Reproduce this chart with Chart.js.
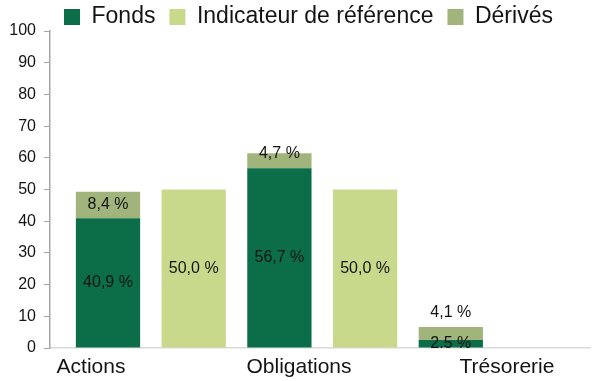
<!DOCTYPE html>
<html lang="fr">
<head>
<meta charset="utf-8">
<title>Répartition du portefeuille</title>
<style>
  html, body { margin: 0; padding: 0; background: #ffffff; }
  #wrap { width: 593px; height: 381px; }
  canvas { display: block; }
</style>
<script src="https://cdn.jsdelivr.net/npm/chart.js@4/dist/chart.umd.min.js"></script>
</head>
<body>
<div id="wrap"><canvas id="chart" width="593" height="381"></canvas></div>
<script>
// Allocation par classe d'actifs (en % de l'actif net)
const categories = ['Actions', 'Obligations', 'Trésorerie'];
const fonds = [40.9, 56.7, 2.5];
const indicateur = [50.0, 50.0, null];
const derives = [8.4, 4.7, 4.1];
const yTicks = [0, 10, 20, 30, 40, 50, 60, 70, 80, 90, 100];

const FONT = '"Liberation Sans", Arial, Helvetica, sans-serif';
const TEXT = '#141414';

const toPoints = (values) => values.map((v, i) => ({ x: i, y: v }));
const formatPct = (v) => v.toFixed(1).replace('.', ',') + ' %';
const categoryTicks = () => categories.map((_, i) => ({ value: i }));

// Writes each segment's value on the bar; small segments can be nudged
// to their top edge or placed just above the stack.
const segmentLabels = {
  id: 'segmentLabels',
  afterDatasetsDraw(chart, args, opts) {
    const { ctx, chartArea } = chart;
    ctx.save();
    ctx.beginPath();
    ctx.rect(chartArea.left, chartArea.top, chartArea.right - chartArea.left, chartArea.bottom - chartArea.top);
    ctx.clip();
    ctx.font = `${opts.size}px ${FONT}`;
    ctx.fillStyle = opts.color;
    ctx.textAlign = 'center';
    ctx.textBaseline = 'middle';
    chart.data.datasets.forEach((ds, di) => {
      const meta = chart.getDatasetMeta(di);
      if (meta.hidden) return;
      const placement = (opts.placement && opts.placement[di]) || [];
      meta.data.forEach((bar, i) => {
        const value = ds.data[i].y;
        if (value === null || value === undefined) return;
        const where = placement[i] || 'center';
        let y = (bar.y + bar.base) / 2;
        if (where === 'top') y = bar.y;
        if (where === 'outside') y = bar.y - opts.outsideGap;
        ctx.fillText(formatPct(value), bar.x, y);
      });
    });
    ctx.restore();
  }
};

new Chart(document.getElementById('chart'), {
  type: 'bar',
  data: {
    datasets: [
      { label: 'Fonds', data: toPoints(fonds), backgroundColor: '#0C6E48', stack: 'portefeuille', xAxisID: 'x', yAxisID: 'y' },
      { label: 'Indicateur de référence', data: toPoints(indicateur), backgroundColor: '#C8D98B', stack: 'indicateur', xAxisID: 'x', yAxisID: 'y' },
      { label: 'Dérivés', data: toPoints(derives), backgroundColor: '#A0B47B', stack: 'portefeuille', xAxisID: 'x', yAxisID: 'y' }
    ]
  },
  options: {
    responsive: false,
    animation: false,
    events: [],
    barPercentage: 0.75,
    categoryPercentage: 1,
    borderWidth: 0,
    layout: { padding: { top: -8.5, right: 3, bottom: 0, left: 0 } },
    scales: {
      x: {
        type: 'linear',
        position: 'bottom',
        min: -0.5884,
        max: 2.5621,
        offset: false,
        ticks: { display: false },
        grid: { display: false },
        border: { display: true, color: '#D9D9D9', width: 1.5 },
        afterBuildTicks(scale) { scale.ticks = categoryTicks(); },
        afterFit(scale) { scale.height = 0; }
      },
      xl: {
        type: 'linear',
        position: 'bottom',
        min: -0.1971,
        max: 2.399,
        offset: false,
        grid: { display: false, drawTicks: false },
        border: { display: false },
        ticks: {
          padding: 7,
          color: TEXT,
          maxRotation: 0,
          autoSkip: false,
          font: { family: FONT, size: 21 },
          callback: (v) => categories[v]
        },
        afterBuildTicks(scale) { scale.ticks = categoryTicks(); },
        afterFit(scale) { scale.height = 33; }
      },
      y: {
        stacked: true,
        min: 0,
        max: 100,
        grid: { display: true, drawOnChartArea: false, drawTicks: true, tickLength: 6, color: '#A6A6A6', lineWidth: 1 },
        border: { display: true, color: '#A6A6A6', width: 1.5 },
        ticks: { padding: 8, color: TEXT, font: { family: FONT, size: 16 } },
        afterBuildTicks(scale) { scale.ticks = yTicks.map((v) => ({ value: v })); },
        afterFit(scale) { scale.width = 50; }
      }
    },
    plugins: {
      legend: {
        position: 'top',
        align: 'start',
        fullSize: false,
        maxHeight: 39.5,
        labels: {
          boxWidth: 16,
          boxHeight: 16,
          padding: 14,
          color: TEXT,
          font: { family: FONT, size: 23 }
        }
      },
      tooltip: { enabled: false },
      segmentLabels: {
        size: 16,
        color: TEXT,
        outsideGap: 14.5,
        placement: { 2: ['center', 'top', 'outside'] }
      }
    }
  },
  plugins: [segmentLabels]
});
</script>
</body>
</html>
